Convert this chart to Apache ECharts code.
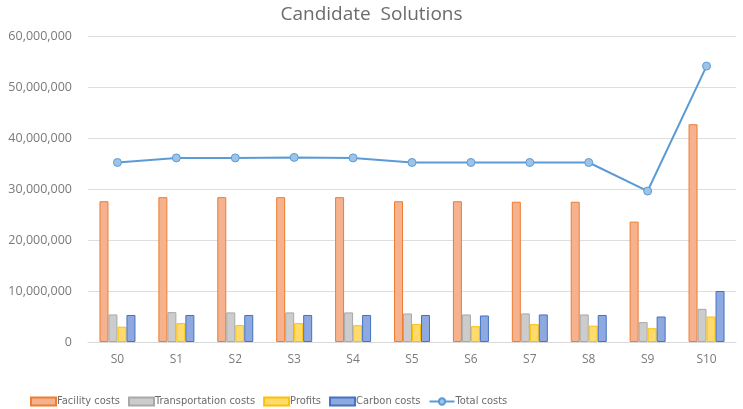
<!DOCTYPE html>
<html>
<head>
<meta charset="utf-8">
<script src="https://cdn.jsdelivr.net/npm/echarts@6/dist/echarts.min.js"></script>
<style>
  html, body { margin: 0; padding: 0; background: #fff; }
  #chart { width: 743px; height: 409px; }
</style>
</head>
<body>
<div id="chart"></div>
<script>
// candidate solutions
var categories = ['S0', 'S1', 'S2', 'S3', 'S4', 'S5', 'S6', 'S7', 'S8', 'S9', 'S10']
var facilityCosts = [27600000, 28400000, 28400000, 28400000, 28400000, 27600000, 27600000, 27500000, 27500000, 23600000, 42700000]
var transportCosts = [5400000, 5850000, 5800000, 5800000, 5800000, 5600000, 5400000, 5600000, 5400000, 3900000, 6500000]
var profits = [3000000, 3700000, 3300000, 3700000, 3300000, 3500000, 3100000, 3500000, 3200000, 2700000, 5000000]
var carbonCosts = [5300000, 5300000, 5300000, 5300000, 5300000, 5300000, 5200000, 5400000, 5300000, 5000000, 10000000]
var totalCosts = [35200000, 36100000, 36100000, 36200000, 36100000, 35200000, 35200000, 35200000, 35200000, 29600000, 54100000]

var myChart = echarts.init(document.getElementById('chart'))

function barSeries(name, data, fill, border) {
  return {
    name: name,
    type: 'bar',
    data: data,
    barWidth: 9,
    barGap: '0%',
    itemStyle: {
      color: fill,
      borderColor: border,
      borderWidth: 1
    }
  }
}

var option = {
  animation: false,
  title: {
    text: 'Candidate  Solutions',
    left: 'center',
    top: 0,
    textStyle: {
      fontFamily: 'Open Sans',
      fontSize: 19,
      fontWeight: 'normal',
      color: '#6b6b6b'
    }
  },
  grid: {
    left: 88,
    right: 7,
    top: 36,
    bottom: 67
  },
  legend: {
    left: 25,
    top: 391,
    itemWidth: 25,
    itemHeight: 8,
    itemGap: 8,
    textStyle: {
      fontFamily: 'DejaVu Sans Condensed',
      fontSize: 11,
      color: '#6b6b6b',
      padding: [0, 0, 0, -4]
    },
    data: [
      { name: 'Facility costs', icon: 'rect' },
      { name: 'Transportation costs', icon: 'rect' },
      { name: 'Profits', icon: 'rect' },
      { name: 'Carbon costs', icon: 'rect' },
      'Total costs'
    ]
  },
  xAxis: {
    type: 'category',
    data: categories,
    axisLine: { lineStyle: { color: '#d9d9d9' } },
    axisTick: { show: false },
    axisLabel: {
      fontFamily: 'Open Sans',
      fontSize: 12,
      color: '#7a7a7a',
      margin: 12
    }
  },
  yAxis: {
    type: 'value',
    min: 0,
    max: 60000000,
    interval: 10000000,
    axisLine: { show: false },
    axisTick: { show: false },
    axisLabel: {
      fontFamily: 'Open Sans',
      fontSize: 12.5,
      color: '#7a7a7a',
      margin: 16,
      formatter: function (v) {
        return v.toString().replace(/\B(?=(\d{3})+(?!\d))/g, ',')
      }
    },
    splitLine: { lineStyle: { color: '#dedede' } }
  },
  series: [
    barSeries('Facility costs', facilityCosts, '#f6b18e', '#ed7d31'),
    barSeries('Transportation costs', transportCosts, '#cccccc', '#a9a9a9'),
    barSeries('Profits', profits, '#ffdb6e', '#ffc000'),
    barSeries('Carbon costs', carbonCosts, '#8ea9e0', '#4472c4'),
    {
      name: 'Total costs',
      type: 'line',
      data: totalCosts,
      symbol: 'circle',
      symbolSize: 8,
      lineStyle: { color: '#5b9bd5', width: 2 },
      itemStyle: {
        color: '#9dc3e6',
        borderColor: '#5b9bd5',
        borderWidth: 1
      }
    }
  ]
}

option && myChart.setOption(option)
</script>
</body>
</html>
